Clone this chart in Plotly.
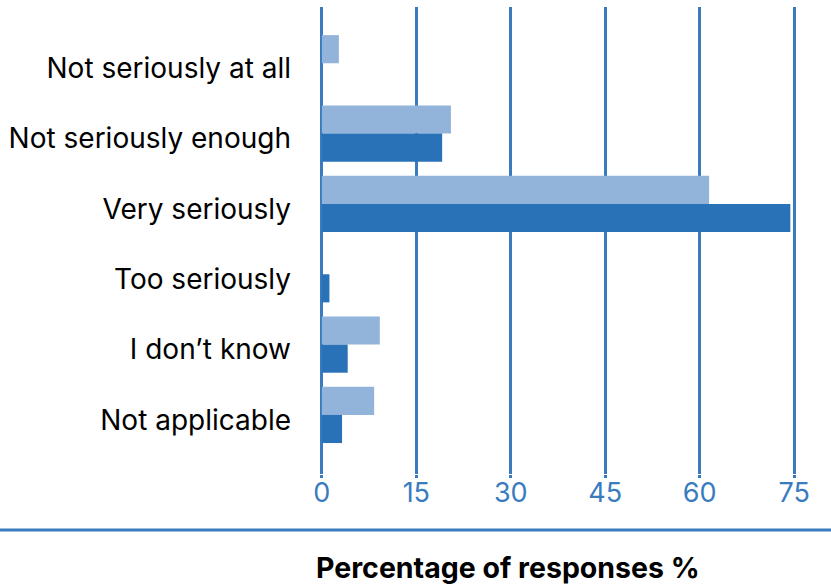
import plotly.graph_objects as go

categories = [
    "Not seriously at all",
    "Not seriously enough",
    "Very seriously",
    "Too seriously",
    "I don\u2019t know",
    "Not applicable",
]
series_light = [2.7, 20.5, 61.5, 0, 9.2, 8.3]
series_dark = [0, 19.1, 74.4, 1.2, 4.1, 3.2]
x_ticks = [0, 15, 30, 45, 60, 75]

LIGHT = "#93b4da"
DARK = "#2a72b8"
GRID = "#3a7bbf"
FONT = "Inter, Liberation Sans, Arial, sans-serif"

L, R, T, B = 320, 35, 7, 111
PW, PH = 831 - L - R, 585 - T - B

fig = go.Figure()
fig.add_trace(go.Bar(y=categories, x=series_light, orientation="h",
                     marker=dict(color=LIGHT, line=dict(width=0)), name="A"))
fig.add_trace(go.Bar(y=categories, x=series_dark, orientation="h",
                     marker=dict(color=DARK, line=dict(width=0)), name="B"))

fig.update_layout(
    width=831, height=585,
    margin=dict(l=L, r=R, t=T, b=B),
    barmode="group", bargap=0.2, bargroupgap=0,
    plot_bgcolor="white", paper_bgcolor="white",
    showlegend=False,
    font=dict(family=FONT, size=28, color="black"),
    xaxis=dict(
        range=[-0.3, 75.3], tickvals=x_ticks, showgrid=True,
        gridcolor=GRID, gridwidth=3, zeroline=False,
        tickfont=dict(color=GRID, size=27), ticks="outside",
        ticklen=3, tickwidth=3, tickcolor=GRID, ticklabelstandoff=-8,
        showline=False,
    ),
    yaxis=dict(
        categoryorder="array", categoryarray=categories,
        range=[5.84, -0.8], showgrid=False, zeroline=False,
        tickfont=dict(color="black", size=28), ticklabelstandoff=28,
        ticklabelshift=-5, showline=False,
    ),
    shapes=[dict(type="line", xref="paper", yref="paper",
                 x0=-L / PW, x1=(831 - L) / PW,
                 y0=-56 / PH, y1=-56 / PH,
                 line=dict(color=GRID, width=3))],
    annotations=[dict(text="<b>Percentage of responses %</b>",
                      xref="paper", yref="paper",
                      x=(508 - L) / PW, y=-93 / PH,
                      xanchor="center", yanchor="middle",
                      showarrow=False, font=dict(size=28.5, color="black"))],
)

fig.write_html("out.html")
